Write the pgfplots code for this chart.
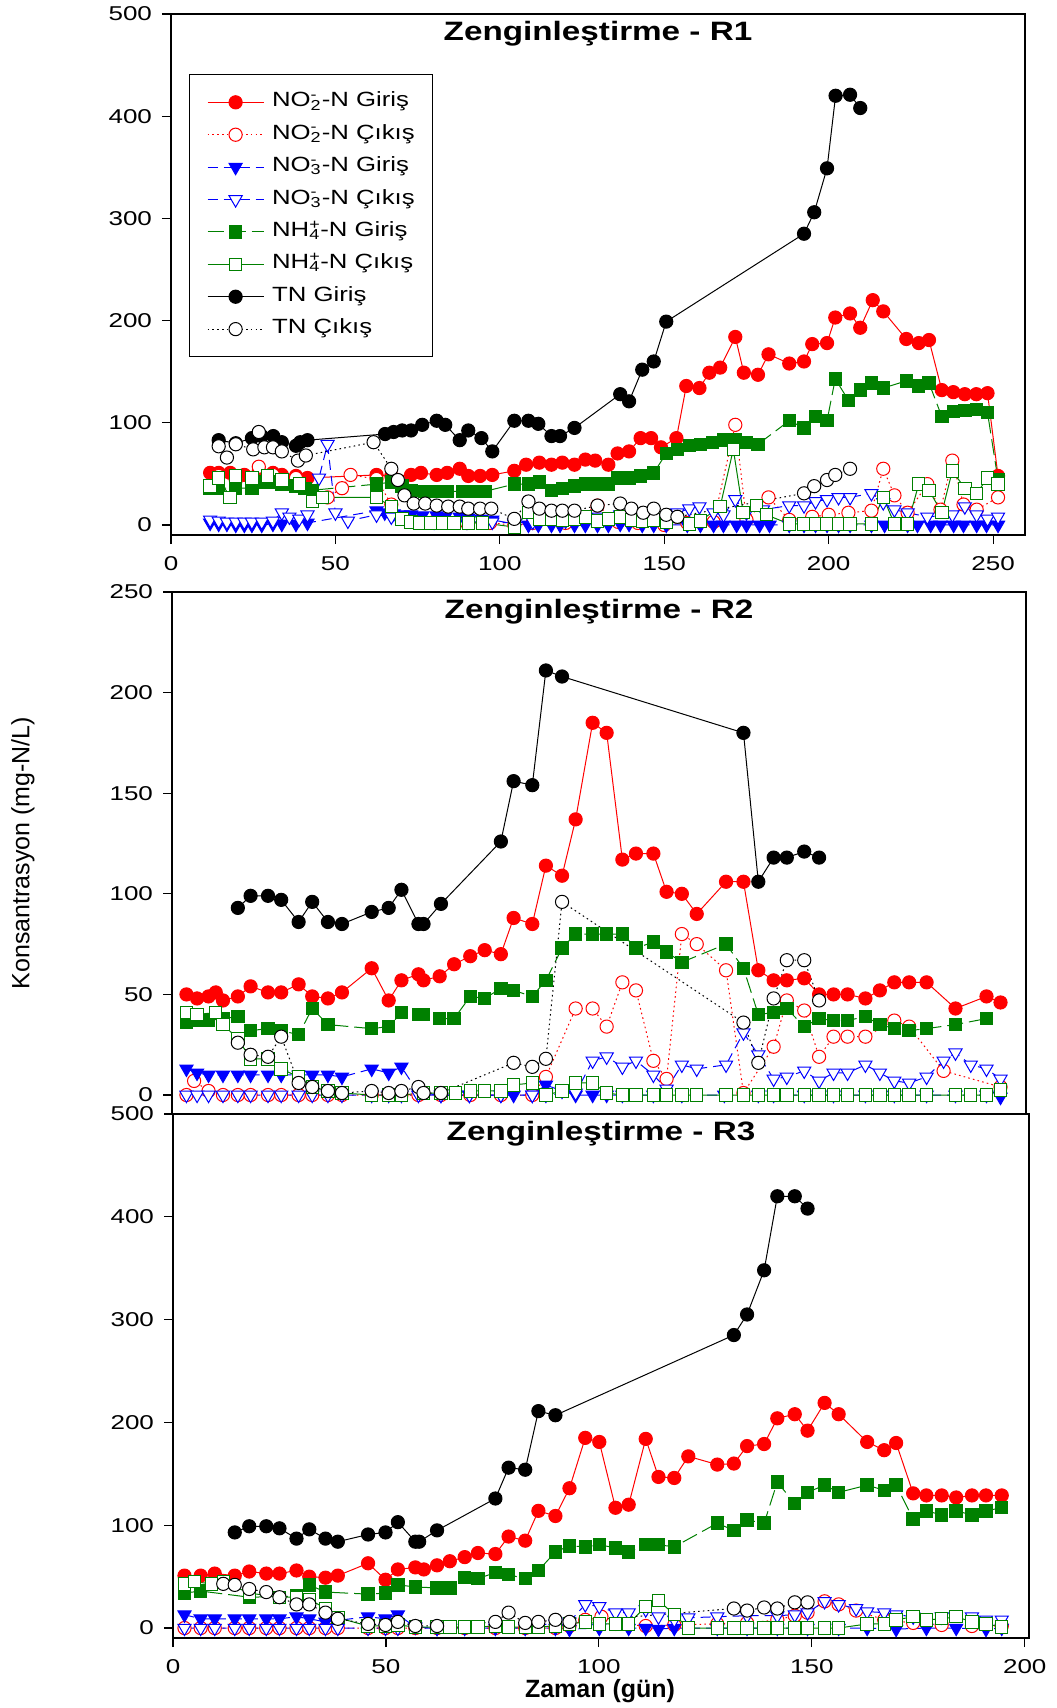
\documentclass[border=0pt]{standalone}
\usepackage{fontspec}
\setmainfont{Liberation Sans}
\newfontfamily\sfw{Liberation Sans}[FakeStretch=1.3]
\newfontfamily\sfl{Liberation Sans}[FakeStretch=1.25]
\newfontfamily\sft{Liberation Sans}[FakeStretch=1.25]
\usepackage{pgfplots}
\pgfplotsset{compat=1.18}
\definecolor{ngreen}{RGB}{0,128,0}
\newcommand\ion[2]{\rlap{\textsuperscript{#2}}\textsubscript{#1}}
\newcommand\ptitle[1]{\node[anchor=center, font=\sft\bfseries\fontsize{13.3}{15}\selectfont] at (rel axis cs:0.5,1) [yshift=-10pt] {#1};}
\pgfplotsset{
 no2in/.style={color=red, solid, line width=0.5pt, mark=*, mark size=3.3pt, mark options={solid, fill=red}},
 no2out/.style={color=red, line width=0.5pt, dash pattern=on 0.8pt off 1.6pt, mark=*, mark size=3.3pt, mark options={solid, fill=white}},
 no3in/.style={color=blue, line width=0.5pt, dash pattern=on 5pt off 3pt, mark=triangle*, mark size=3.8pt, mark options={solid, rotate=180, fill=blue}},
 no3out/.style={color=blue, line width=0.5pt, dash pattern=on 5pt off 3pt, mark=triangle*, mark size=3.8pt, mark options={solid, rotate=180, fill=white}},
 nh4in/.style={color=ngreen, line width=0.5pt, dash pattern=on 8pt off 3pt, mark=square*, mark size=3.1pt, mark options={solid, fill=ngreen}},
 nh4out/.style={color=ngreen, solid, line width=0.5pt, mark=square*, mark size=3.1pt, mark options={solid, fill=white}},
 tnin/.style={color=black, solid, line width=0.5pt, mark=*, mark size=3.3pt, mark options={solid, fill=black}},
 tnout/.style={color=black, line width=0.5pt, dash pattern=on 0.8pt off 1.6pt, mark=*, mark size=3.3pt, mark options={solid, fill=white}},
 panel/.style={
  scale only axis, anchor=south west,
  axis line style={line width=0.7pt},
  tick style={black, line width=0.6pt},
  major tick length=4.5pt, tick align=outside,
  xtick pos=bottom, ytick pos=left,
  /pgf/number format/assume math mode=true,
  ticklabel style={font=\sfw\fontsize{10}{11}\selectfont},
  xticklabel style={yshift=-2.5pt},
  yticklabel style={xshift=-1.5pt},
 },
}
\begin{document}
\begin{tikzpicture}
\path[use as bounding box] (0,0) rectangle (528pt,-854pt);
% ---------------- R1 ----------------
\begin{axis}[panel, at={(85.5pt,-267.5pt)}, width=427pt, height=260.5pt,
  xmin=0, xmax=259.7, ymin=-9.8, ymax=500,
  xtick={0,50,...,250}, ytick={0,100,...,500},
  legend cell align=left,
  legend image code/.code={\draw[mark repeat=2,mark phase=2,#1] plot coordinates {(0pt,0pt) (14pt,0pt) (28pt,0pt)};},
  legend style={at={(0.0205,0.8848)}, anchor=north west, draw=black, line width=0.6pt, fill=white,
    inner xsep=9pt, inner ysep=9.6pt, row sep=7.7pt, column sep=4pt,
    font=\sfl\fontsize{10.3}{12}\selectfont,
    nodes={inner sep=0pt, text height=6.5pt, text depth=2pt}},
]
\addplot[no2in] coordinates {(11.9,51)(14.5,51)(18,51)(22.3,49)(26.7,53)(31,51)(33.7,49)(38,48)(41.5,46)(62.5,49)(67,48)(73,49)(76,51)(80.8,49)(84,51)(87.8,55)(90.4,48)(94,48)(97.7,49)(104.4,53)(108,59)(112,61)(115.7,59)(119,61)(122.7,59)(126,64)(129,63)(133,59)(135.8,70)(139.3,72)(142.8,85)(146,85)(149,76)(153.7,85)(156.7,136)(160.7,134)(163.7,149)(167,154)(171.6,184)(174.2,149)(178.5,147)(181.7,167)(188,158)(192.5,160)(195,177)(199.5,178)(202,203)(206.5,207)(209.6,193)(213.4,220)(216.6,209)(223.6,182)(227.4,178)(230.5,181)(234.4,132)(237.9,130)(241.4,128)(244.9,128)(248.3,129)(251.5,48)};
\addlegendentry{NO\ion{2}{-}-N Giriş}
\addplot[no2out] coordinates {(14.5,48)(19.7,44)(26.7,57)(31,49)(38,46)(47.6,27)(52,36)(54.6,49)(62.5,45)(67,20)(73,5)(80,3)(90,2)(97,2)(104.4,0)(110,2)(120,2)(129.7,19)(136,3)(142,2)(150,0)(157,2)(165,3)(171.6,98)(175,5)(181.7,27)(188,5)(195,8)(200,10)(206,12)(213,14)(216.6,55)(220,29)(224,12)(230,40)(234,15)(237.6,63)(241,20)(245,15)(251.5,27)};
\addlegendentry{NO\ion{2}{-}-N Çıkış}
\addplot[no3in] coordinates {(11.9,2)(14.5,1)(17,1)(19.7,0)(22.3,0)(24.6,0)(27.6,0)(31,1)(33.7,1)(38,1)(41.5,2)(62.5,14)(65,12)(67.7,11)(70.3,10)(73,10)(76.4,9)(80.8,9)(83.4,8)(87.8,8)(90.4,7)(94.4,6)(97.7,5)(104.4,1)(108.7,0)(111.7,0)(115.7,0)(118.3,0)(122.7,0)(126,0)(129.7,0)(133,0)(136.6,1)(139.3,1)(143.3,0)(146.8,0)(150.6,0)(157,0)(161,0)(165,0)(168,0)(172,0)(175,0)(179,0)(182,0)(188,0)(192.5,0)(196,0)(199.5,0)(203,0)(206.5,0)(213,0)(217,0)(224,0)(227,0)(231,0)(234,0)(238,0)(241,0)(245,0)(248,0)(251.5,0)};
\addlegendentry{NO\ion{3}{-}-N Giriş}
\addplot[no3out] coordinates {(11.9,5)(14.5,4)(17,3)(19.7,3)(22.3,3)(24.6,3)(27.6,3)(31,4)(33.7,12)(36,8)(39,6)(41.5,10)(45,46)(47.6,79)(50,12)(53.8,4)(62.5,10)(67,8)(73,5)(80,3)(90,3)(97.7,3)(104.4,2)(110,3)(120,4)(130,8)(136.6,10)(143,8)(150,6)(154,12)(157.6,16)(160.7,18)(165,12)(168,10)(171.6,25)(175,12)(180,15)(188,19)(192.5,19)(196,23)(199.5,25)(203,27)(206.5,27)(213,31)(216.6,22)(220,15)(224,12)(230,8)(237.6,10)(241.4,18)(245,10)(248.3,6)(251.5,8)};
\addlegendentry{NO\ion{3}{-}-N Çıkış}
\addplot[nh4in] coordinates {(11.9,36)(14.5,36)(19.7,36)(24.6,36)(27.6,42)(31,42)(33.7,40)(38,38)(40.7,36)(43,34)(62.5,40)(67,42)(70.3,38)(73,34)(77.3,33)(80.8,33)(84,33)(88.7,33)(92,33)(95.6,33)(104.4,40)(108.7,40)(112,42)(115.7,34)(119,36)(122.7,38)(126,40)(129.7,40)(133,40)(135.8,46)(139.3,46)(142.8,48)(146.8,51)(150.6,70)(154,74)(157.6,78)(161,79)(164.6,81)(168,83)(171.6,83)(175,81)(178.5,79)(188,102)(192.5,95)(196,106)(199.5,102)(202,143)(206,122)(209.6,132)(213,139)(216.6,134)(223.6,141)(227.4,136)(230.5,139)(234.4,106)(237.9,111)(241.4,112)(244.9,113)(248.3,110)(251.5,44)};
\addlegendentry{NH\ion{4}{+}-N Giriş}
\addplot[nh4out] coordinates {(11.9,38)(14.5,46)(18,27)(19.7,48)(24.6,46)(29.3,48)(33.7,44)(39,40)(43,23)(46,27)(62.5,27)(67,18)(70.3,6)(73,3)(75.6,2)(79,2)(82.5,2)(86,2)(90.4,2)(94.8,2)(104.4,-2)(108.7,12)(112,6)(115.7,6)(119,5)(122.7,6)(126,8)(129.7,4)(133,6)(136.6,8)(140,5)(143.3,4)(146.8,5)(150.6,3)(157.6,1)(161,4)(167,18)(171,74)(174,12)(178,19)(181,10)(188,1)(192.5,1)(196,1)(199.5,1)(203,1)(206.5,1)(213,1)(216.6,27)(220,1)(224,1)(227.4,40)(230.5,34)(234.4,12)(237.6,53)(241.4,36)(245,31)(248.3,46)(251.5,40)};
\addlegendentry{NH\ion{4}{+}-N Çıkış}
\addplot[tnin] coordinates {(14.5,83)(19.7,80)(24.6,85)(27.6,87)(31.1,87)(33.7,81)(38,77.5)(39.3,81)(41.5,83)(65.1,89)(67.7,91)(70.3,92.5)(73,92.5)(76.4,98)(80.8,102)(83.4,98)(87.8,83)(90.4,92.5)(94.4,85)(97.7,72)(104.4,102)(108.7,102)(111.7,99)(115.7,87)(118.3,87)(122.7,95)(136.6,128)(139.3,121)(143.3,152)(146.8,160)(150.6,199)(192.5,285)(195.6,306)(199.5,349)(202.1,420)(206.5,421)(209.6,408)};
\addlegendentry{TN Giriş}
\addplot[tnout] coordinates {(14.5,77)(17,66)(19.7,79)(25,74)(26.7,91)(28.4,76)(31,76)(33.7,72)(38.6,63)(41,68)(61.6,81)(67,55)(69,44)(71,29)(73.8,21)(77.3,21)(80.8,19)(84.3,18)(87.8,18)(90.4,16)(94,16)(97.4,16)(104.4,6)(108.7,23)(112,16)(115.7,14)(119,14)(122.7,14)(129.7,19)(136.6,21)(140,16)(143.6,12)(146.8,16)(150.6,10)(154,8)(192.5,31)(195.6,38)(199.5,44)(202,49)(206.5,55)};
\addlegendentry{TN Çıkış}
\ptitle{Zenginleştirme - R1}
\end{axis}
% ---------------- R2 ----------------
\begin{axis}[panel, at={(86pt,-557pt)}, width=427pt, height=261pt,
  xmin=0, xmax=201, ymin=-9.44, ymax=250,
  xtick=\empty, ytick={0,50,...,250},
]
\addplot[no2in] coordinates {(3.4,50)(5.9,48)(8.6,49)(10.3,51)(12,47)(15.5,49)(18.5,54)(22.6,51)(25.7,51)(29.8,55)(33,49)(36.7,48)(40,51)(47,63)(51,47)(54,57)(58,60)(59.2,57)(63,59)(66.4,65)(70.2,69)(73.6,72)(77.4,70)(80.4,88)(84.8,85)(88,114)(91.8,109)(95,137)(99,185)(102.3,180)(106,117)(109.2,120)(113.3,120)(116.4,101)(120,100)(123.5,90)(130.4,106)(134.5,106)(138,62)(141.6,57)(144.7,57)(148.8,58)(152.3,50)(155.7,50)(159,50)(163.2,48)(166.6,52)(170,56)(173.5,56)(177.6,56)(184.4,43)(191.7,49)(195,46)};
\addplot[no2out] coordinates {(3.4,0)(5.2,7)(8.6,2)(12,0)(15.5,0)(18.5,0)(22.6,0)(25.7,0)(29.8,0)(33,0)(36.7,0)(40,0)(47,0)(51,0)(54,0)(58,0)(63.3,0)(70.2,0)(77.4,0)(84.8,0)(88,9)(95,43)(99,43)(102.3,34)(106,56)(109.2,52)(113.3,17)(116.4,8)(120,80)(123.5,75)(130.4,62)(134.5,1)(141.6,24)(144.7,47)(148.8,42)(152.3,19)(155.7,29)(159,29)(163.2,29)(170,37)(173.5,34)(181.6,12)(195,4)};
\addplot[no3in] coordinates {(3.4,13)(5.9,11)(8.6,10)(12,10)(15.5,10)(18.5,10)(22.6,10)(25.7,10)(29.8,10)(33,10)(36.7,10)(40,9)(47,13)(51,11)(54,14)(58,1)(63.3,0)(70,0)(77.4,0)(80.4,0)(84.8,0)(88,5)(91.8,2)(95,0)(99,0)(102.3,0)(106,0)(113.3,0)(120,0)(130,0)(138,0)(141.6,0)(148.8,0)(155.7,0)(163.2,0)(170,0)(177.6,0)(184.4,0)(191.7,0)(195,-1)};
\addplot[no3out] coordinates {(3.4,0)(5.9,0)(8.6,0)(12,0)(15.5,0)(18.5,0)(22.6,0)(25.7,0)(29.8,0)(33,0)(36.7,0)(40,0)(47,0)(51,0)(54,0)(58,0)(63.3,0)(70,0)(77.4,0)(84.8,0)(88,0)(95,1)(99,17)(102.3,19)(106,14)(109.2,17)(113.3,10)(116.4,3)(120,15)(123.5,13)(130.4,15)(134.5,31)(138,20)(141.6,8)(144.7,9)(148.8,12)(152.3,7)(155.7,11)(159,11)(163.2,15)(166.6,11)(170,7)(173.5,6)(177.6,9)(181.6,17)(184.4,21)(188,15)(191.7,13)(195,8)};
\addplot[nh4in] coordinates {(3.4,36)(5.9,37)(8.6,37)(12,38)(15.5,39)(18.5,32)(22.6,33)(25.7,32)(29.8,30)(33,43)(36.7,35)(47,33)(51,34)(54,41)(58,40)(59.2,40)(63,38)(66.4,38)(70.2,49)(73.6,48)(77.4,53)(80.4,52)(84.8,49)(88,57)(91.8,73)(95,80)(99,80)(102.3,80)(106,80)(109.2,73)(113.3,76)(116.4,71)(120,66)(130.4,75)(134.5,63)(138,40)(141.6,41)(144.7,43)(148.8,34)(152.3,38)(155.7,37)(159,37)(163.2,39)(166.6,35)(170,33)(173.5,32)(177.6,33)(184.4,35)(191.7,38)};
\addplot[nh4out] coordinates {(3.4,41)(5.9,40)(10.3,41)(12,35)(15.5,28)(18.5,18)(22.6,18)(25.7,13)(29.8,9)(33,4)(36.7,2)(40,1)(47,0)(51,0)(54,0)(59.2,1)(63.3,1)(66.7,1)(70.2,2)(73.6,2)(77.4,2)(80.4,5)(84.8,6)(88,0)(91.8,2)(95,6)(99,6)(102.3,1)(106,0)(109.2,0)(113.3,0)(116.4,0)(120,0)(123.5,0)(130.4,0)(134.5,0)(138,0)(141.6,0)(144.7,0)(148.8,0)(152.3,0)(155.7,0)(159,0)(163.2,0)(166.6,0)(170,0)(173.5,0)(177.6,0)(184.4,0)(188,0)(191.7,0)(195,2.5)};
\addplot[tnin] coordinates {(15.5,93)(18.5,99)(22.6,99)(25.7,97)(29.8,86)(33,96)(36.7,86)(40,85)(47,91)(51,93)(54,102)(58,85)(59.2,85)(63.3,95)(77.4,126)(80.4,156)(84.8,154)(88,211)(91.8,208)(134.5,180)(138,106)(141.6,118)(144.7,118)(148.8,121)(152.3,118)};
\addplot[tnout] coordinates {(15.5,26)(18.5,20)(22.6,19)(25.7,29)(29.8,6)(33,4)(36.7,2)(40,1)(47,2)(51,1)(54,2)(58,4)(59.2,1)(63.3,1)(80.4,16)(84.8,14)(88,18)(91.8,96)(134.5,36)(138,16)(141.6,48)(144.7,67)(148.8,67)(152.3,47)};
\ptitle{Zenginleştirme - R2}
\end{axis}
% ---------------- R3 ----------------
\begin{axis}[panel, at={(86.5pt,-819pt)}, width=428pt, height=262pt,
  xmin=0, xmax=201, ymin=-9.7, ymax=500,
  xtick={0,50,...,200}, ytick={0,100,...,500},
]
\addplot[no2in] coordinates {(2.7,51)(6.5,51)(9.8,53)(14.5,51)(17.9,55)(21.9,53)(25,53)(29,56)(32,50)(35.8,49)(38.7,51)(45.8,63)(49.9,47)(52.8,57)(56.9,59)(58.9,57)(62,61)(65,65)(68.5,69)(71.6,73)(75.7,72)(78.8,89)(82.7,85)(85.8,114)(89.8,109)(93.1,136)(96.8,185)(100.1,181)(103.9,117)(107,120)(111,184)(114,147)(117.7,146)(121,167)(127.8,159)(131.7,160)(134.8,177)(138.8,179)(141.9,204)(146,208)(149,192)(153,219)(156.3,208)(163,181)(167,173)(169.8,180)(173.8,131)(176.9,129)(180.5,129)(183.9,127)(187.6,129)(190.9,129)(194.6,129)};
\addplot[no2out] coordinates {(2.7,0)(6.5,0)(9.8,0)(14.5,0)(17.9,0)(21.9,0)(25,0)(29,0)(32,0)(35.8,0)(38.7,0)(45.8,0)(49.9,0)(52.8,0)(56.9,0)(62,0)(68.5,0)(75.7,0)(82.7,0)(89.8,0)(93.1,2)(96.8,8)(100.6,11)(104,4)(111,2)(117.7,3)(127.8,4)(134.8,5)(141.9,8)(146,12)(149,15)(153,26)(156.3,23)(160.4,17)(167,8)(173.8,5)(180.5,3)(187.6,2)(194.6,2)};
\addplot[no3in] coordinates {(2.7,13)(6.5,9)(9.8,9)(14.5,9)(17.9,9)(21.9,9)(25,9)(29,11)(32,9)(35.8,6)(45.8,11)(49.9,9)(52.8,13)(56.9,1)(62,0)(68.5,0)(75.7,0)(82.7,0)(89.8,0)(93.1,-1)(100.1,0)(107,0)(111,0)(114,-1)(117.7,0)(127.8,0)(134.8,0)(141.9,0)(149,0)(156.3,0)(163,0)(169.8,-1)(176.9,0)(183.9,0)(190.9,-1)(194.6,0)};
\addplot[no3out] coordinates {(2.7,0)(6.5,0)(9.8,0)(14.5,0)(17.9,0)(21.9,0)(25,0)(29,0)(32,0)(35.8,0)(38.7,0)(45.8,0)(49.9,0)(52.8,0)(62,0)(75.7,2)(89.8,4)(93.1,6)(96.8,23)(100.1,21)(103.9,15)(107,15)(111,18)(114,11)(117.7,8)(121,10)(127.8,11)(134.8,12)(141.9,12)(146,13)(149,15)(153,26)(156.3,23)(160.4,19)(163,16)(167,15)(169.8,13)(173.8,11)(180.5,11)(187.6,11)(190.9,8)(194.6,8)};
\addplot[nh4in] coordinates {(2.7,34)(6.5,36)(17.9,30)(29,31)(32,42)(35.8,35)(45.8,33)(49.9,34)(52.8,42)(56.9,40)(62,39)(65,39)(68.5,49)(71.6,48)(75.7,54)(78.8,52)(82.7,48)(85.8,56)(89.8,74)(93.1,80)(96.8,79)(100.1,81)(103.9,78)(107,74)(111,81)(114,81)(117.7,79)(127.8,102)(131.7,95)(134.8,105)(138.8,102)(141.9,142)(146,121)(149,132)(153,139)(156.3,132)(163,139)(167,134)(169.8,139)(173.8,106)(176.9,114)(180.5,110)(183.9,114)(187.6,110)(190.9,114)(194.6,117)};
\addplot[nh4out] coordinates {(2.7,43)(5.1,45)(9.1,43)(11.8,45)(17.9,34)(25,30)(29,30)(32,28)(35.8,19)(38.7,10)(45.8,2)(49.9,2)(52.8,3)(56.9,1)(62,1)(65,1)(68.5,1)(71.6,1)(75.7,2)(78.8,1)(82.7,1)(85.8,1)(89.8,2)(93.1,4)(96.8,6)(100.1,4)(103.9,4)(107,4)(111,21)(114,27)(117.7,13)(121,0)(127.8,0)(131.7,0)(134.8,0)(138.8,0)(141.9,0)(146,0)(149,0)(153,0)(156.3,0)(163,4)(167,4)(169.8,8)(173.8,11)(176.9,8)(180.5,9)(183.9,11)(187.6,6)(190.9,4)(194.6,1)};
\addplot[tnin] coordinates {(14.5,93)(17.9,99)(21.9,99)(25,97)(29,87)(32,96)(35.8,87)(38.7,84)(45.8,91)(49.9,93)(52.8,103)(56.9,84)(57.8,84)(62,95)(75.7,126)(78.8,156)(82.7,154)(85.8,211)(89.8,207)(131.7,285)(134.8,305)(138.8,348)(141.9,420)(146,420)(149,408)};
\addplot[tnout] coordinates {(11.8,43)(14.5,42)(17.9,38)(21.9,35)(25,30)(29,23)(32,23)(35.8,15)(38.7,9)(45.8,4)(49.9,3)(52.8,6)(56.9,2)(62,2)(75.7,6)(78.8,15)(82.7,5)(85.8,6)(89.8,8)(93.1,6)(131.7,19)(134.8,17)(138.8,20)(141.9,19)(146,25)(149,25)};
\ptitle{Zenginleştirme - R3}
\end{axis}
\node[rotate=90, font=\fontsize{12.5}{14}\selectfont] at (11.5pt,-426.5pt) {Konsantrasyon (mg-N/L)};
\node[font=\bfseries\fontsize{12.5}{14}\selectfont] at (300pt,-845.5pt) {Zaman (gün)};
\end{tikzpicture}
\end{document}
